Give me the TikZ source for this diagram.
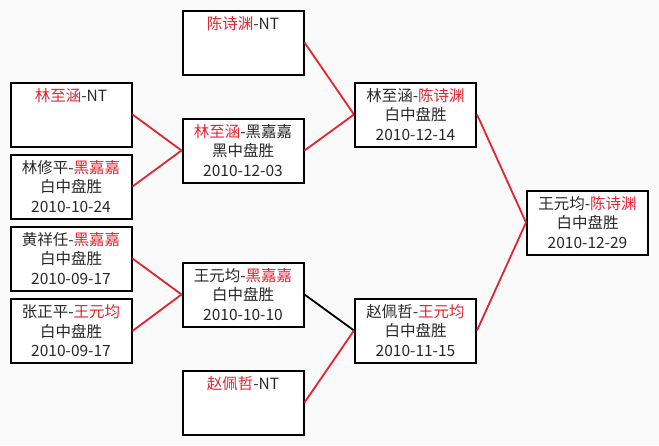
\documentclass[tikz,border=0pt]{standalone}
\usepackage{fontspec}
\setmainfont{Noto Sans CJK SC}
\definecolor{winred}{RGB}{226,36,48}
\definecolor{lossgray}{RGB}{40,40,40}
\definecolor{paper}{RGB}{250,250,250}
\newcommand{\wn}[1]{\textcolor{winred}{#1}}

\begin{document}
\begin{tikzpicture}[x=1pt, y=-1pt,
  every node/.style={font=\fontsize{15.5}{19.5}\selectfont, text=lossgray},
  game/.style={draw=black, line width=2pt, minimum width=121pt, minimum height=64pt,
    align=center, inner sep=0pt, fill=white},
  winline/.style={draw=winred, line width=1.8pt},
  lossline/.style={draw=black, line width=1.8pt}]
  \fill[paper] (0,0) rectangle (659,445);

  % first round
  \node[game] (lnt) at (71,114.5) {\wn{林至涵}-NT\\\mbox{}\\\mbox{}};
  \node[game] (lxp) at (71,186.5) {林修平-\wn{黑嘉嘉}\\白中盘胜\\2010-10-24};
  \node[game] (hxr) at (71,258.5) {黄祥任-\wn{黑嘉嘉}\\白中盘胜\\2010-09-17};
  \node[game] (zzp) at (71,331) {张正平-\wn{王元均}\\白中盘胜\\2010-09-17};

  % second round
  \node[game] (csnt) at (243,42.5) {\wn{陈诗渊}-NT\\\mbox{}\\\mbox{}};
  \node[game] (lzh) at (243,150.5) {\wn{林至涵}-黑嘉嘉\\黑中盘胜\\2010-12-03};
  \node[game] (wyj) at (243,294.5) {王元均-\wn{黑嘉嘉}\\白中盘胜\\2010-10-10};
  \node[game] (zpnt) at (243,402.5) {\wn{赵佩哲}-NT\\\mbox{}\\\mbox{}};

  % semifinals
  \node[game] (semia) at (415.5,114.5) {林至涵-\wn{陈诗渊}\\白中盘胜\\2010-12-14};
  \node[game] (semib) at (415.5,330.5) {赵佩哲-\wn{王元均}\\白中盘胜\\2010-11-15};

  % final
  \node[game] (final) at (587.5,222.5) {王元均-\wn{陈诗渊}\\白中盘胜\\2010-12-29};

  \draw[winline] (lnt.east) -- (lzh.west);
  \draw[winline] (lxp.east) -- (lzh.west);
  \draw[winline] (hxr.east) -- (wyj.west);
  \draw[winline] (zzp.east) -- (wyj.west);

  \draw[winline] (csnt.east) -- (semia.west);
  \draw[winline] (lzh.east) -- (semia.west);
  \draw[lossline] (wyj.east) -- (semib.west);
  \draw[winline] (zpnt.east) -- (semib.west);

  \draw[winline] (semia.east) -- (final.west);
  \draw[winline] (semib.east) -- (final.west);
\end{tikzpicture}
\end{document}
